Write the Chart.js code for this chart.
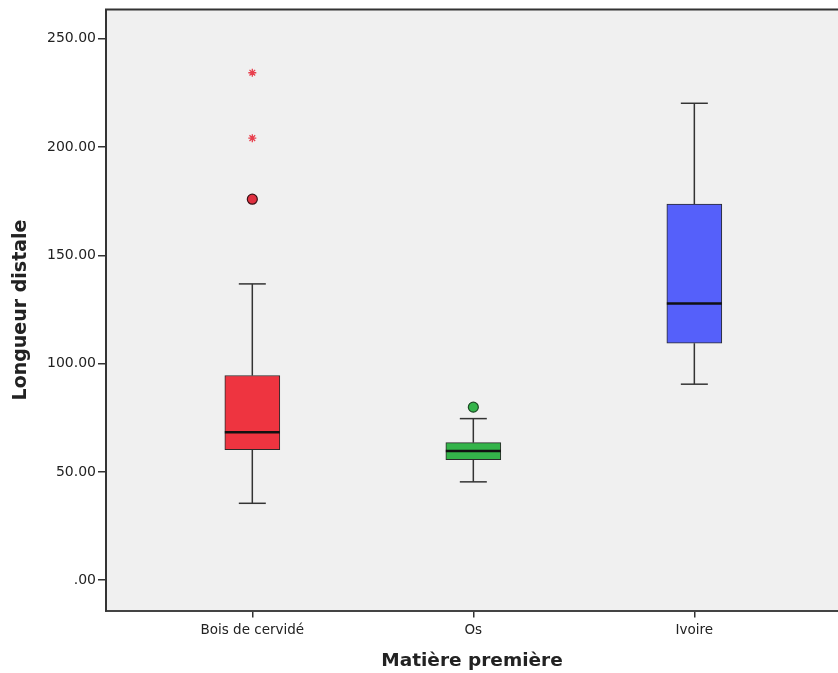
<!DOCTYPE html>
<html>
<head>
<meta charset="utf-8">
<script src="https://cdn.jsdelivr.net/npm/chart.js@4"></script>
<style>
html,body{margin:0;padding:0;background:#fff;}
#wrap{width:838px;height:673px;}
</style>
</head>
<body>
<div id="wrap"><canvas id="c" width="838" height="673"></canvas></div>
<script>
const categories = ['Bois de cervidé', 'Os', 'Ivoire'];
const q1 = [60.3, 55.7, 109.4];
const median = [68.3, 59.7, 127.8];
const q3 = [94.5, 63.5, 173.7];
const whiskerLow = [35.5, 45.4, 90.5];
const whiskerHigh = [136.8, 74.6, 220.2];
const outlierCat = [0, 1];
const outlierVal = [175.9, 79.9];
const extremeCat = [0, 0];
const extremeVal = [204.1, 234.3];
const yTicks = [0, 50, 100, 150, 200, 250];

const boxColors = ['#EE3440', '#34B44A', '#5560FA'];
const outlierFill = ['#E03040', '#34B44A'];
const FONT = "'DejaVu Sans', sans-serif";

const boxPlugin = {
  id: 'boxExtras',
  beforeDraw(chart) {
    const {ctx, chartArea: a} = chart;
    ctx.save();
    ctx.fillStyle = '#F0F0F0';
    ctx.fillRect(a.left, a.top, a.right - a.left, a.bottom - a.top);
    ctx.restore();
  },
  beforeDatasetsDraw(chart) {
    const {ctx, scales: {x, y}} = chart;
    ctx.save();
    ctx.strokeStyle = '#333';
    ctx.lineWidth = 1.5;
    const cap = 13.5;
    for (let i = 0; i < categories.length; i++) {
      const px = x.getPixelForValue(i);
      const segs = [[whiskerLow[i], q1[i]], [q3[i], whiskerHigh[i]]];
      segs.forEach(([a, b]) => {
        ctx.beginPath();
        ctx.moveTo(px, y.getPixelForValue(a));
        ctx.lineTo(px, y.getPixelForValue(b));
        ctx.stroke();
      });
      [whiskerLow[i], whiskerHigh[i]].forEach(v => {
        const py = y.getPixelForValue(v);
        ctx.beginPath();
        ctx.moveTo(px - cap, py);
        ctx.lineTo(px + cap, py);
        ctx.stroke();
      });
    }
    ctx.restore();
  },
  afterDatasetsDraw(chart) {
    const {ctx, scales: {x, y}, chartArea: a} = chart;
    const meta = chart.getDatasetMeta(0);
    ctx.save();
    ctx.strokeStyle = '#111';
    ctx.lineWidth = 2.5;
    for (let i = 0; i < categories.length; i++) {
      const el = meta.data[i];
      const half = el.width / 2;
      const px = x.getPixelForValue(i);
      const py = y.getPixelForValue(median[i]);
      ctx.beginPath();
      ctx.moveTo(px - half, py);
      ctx.lineTo(px + half, py);
      ctx.stroke();
    }
    ctx.strokeStyle = '#333';
    ctx.lineWidth = 2;
    ctx.beginPath();
    ctx.moveTo(a.left - 1, a.top);
    ctx.lineTo(a.right, a.top);
    ctx.stroke();
    ctx.restore();
  }
};

new Chart(document.getElementById('c'), {
  type: 'bar',
  data: {
    datasets: [
      {
        type: 'bar',
        data: categories.map((c, i) => ({x: i, y: [q1[i], q3[i]]})),
        backgroundColor: boxColors,
        borderColor: '#2a2a2a',
        borderWidth: 1,
        borderSkipped: false,
        barThickness: 55,
        order: 2
      },
      {
        type: 'scatter',
        data: outlierCat.map((c, i) => ({x: c, y: outlierVal[i]})),
        pointStyle: 'circle',
        pointRadius: 5,
        pointBackgroundColor: outlierFill,
        pointBorderColor: ['#3a1015', '#1d4a25'],
        pointBorderWidth: 1.2,
        order: 1
      },
      {
        type: 'scatter',
        data: extremeCat.map((c, i) => ({x: c, y: extremeVal[i]})),
        pointStyle: 'star',
        pointRadius: 4,
        pointBorderColor: '#E8404E',
        pointBorderWidth: 1.3,
        pointBackgroundColor: '#E8404E',
        order: 1
      }
    ]
  },
  options: {
    responsive: false,
    animation: false,
    events: [],
    layout: {autoPadding: false, padding: {top: 9.5, right: 0, bottom: 0, left: 0}},
    plugins: {legend: {display: false}, tooltip: {enabled: false}},
    scales: {
      x: {
        type: 'linear',
        min: -0.662,
        max: 2.650,
        offset: false,
        afterBuildTicks(s) { s.ticks = categories.map((c, i) => ({value: i})); },
        afterFit(s) { s.height = 62.5; s.paddingLeft = 0; s.paddingRight = 0; },
        ticks: {
          callback: (v) => categories[v],
          font: {family: FONT, size: 13.5},
          color: '#222',
          padding: 5,
          maxRotation: 0,
          autoSkip: false
        },
        grid: {offset: false, drawOnChartArea: false, drawTicks: true, tickLength: 7, color: '#333', lineWidth: 1.5},
        border: {display: true, color: '#444', width: 2},
        title: {
          display: true,
          text: 'Matière première',
          font: {family: FONT, size: 18.5, weight: 'bold'},
          color: '#222',
          padding: {top: 0, bottom: 1}
        }
      },
      y: {
        type: 'linear',
        min: -14.0,
        max: 263.5,
        afterBuildTicks(s) { s.ticks = yTicks.map(v => ({value: v})); },
        afterFit(s) { s.width = 106; s.paddingTop = 0; s.paddingBottom = 0; },
        ticks: {
          callback: (v) => v === 0 ? '.00' : v.toFixed(2),
          font: {family: FONT, size: 14},
          color: '#222',
          padding: 2
        },
        grid: {drawOnChartArea: false, drawTicks: true, tickLength: 8, color: '#333', lineWidth: 1.5},
        border: {display: true, color: '#333', width: 2},
        title: {
          display: true,
          text: 'Longueur distale',
          font: {family: FONT, size: 19, weight: 'bold'},
          color: '#222',
          padding: {top: 10, bottom: 0}
        }
      }
    }
  },
  plugins: [boxPlugin]
});
</script>
</body>
</html>
